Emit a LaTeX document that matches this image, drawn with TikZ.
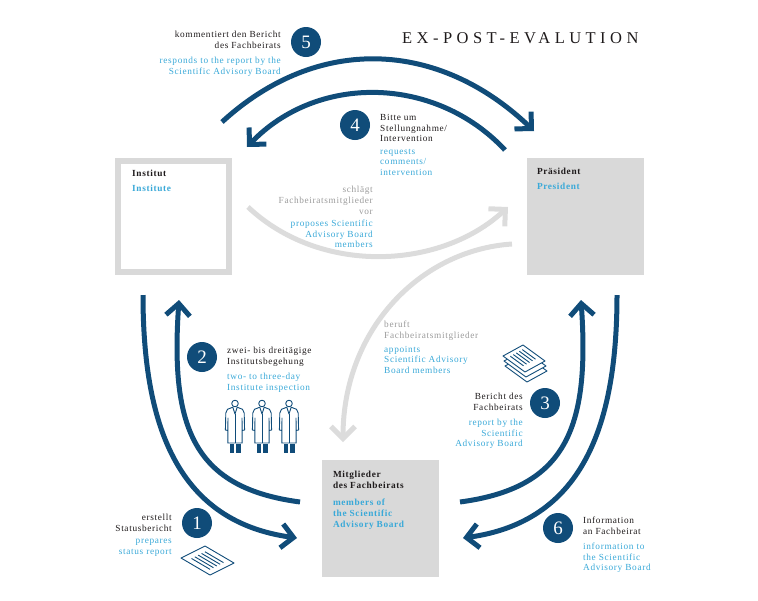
\documentclass[tikz,border=0pt]{standalone}
\usepackage{fontspec}
\setmainfont{Liberation Serif}[LetterSpace=7]
\newfontfamily\titlefont{Liberation Serif}[LetterSpace=27]
\newfontfamily\numfont{Liberation Serif}
\usepackage{tikz}
\usetikzlibrary{arrows.meta,calc,positioning}
\definecolor{navy}{RGB}{16,76,121}
\definecolor{skyblue}{RGB}{58,169,216}
\definecolor{textdark}{RGB}{30,26,27}
\definecolor{textgray}{RGB}{155,155,155}
\definecolor{boxgray}{RGB}{217,217,217}
\definecolor{arrowgray}{RGB}{220,220,220}
\tikzstyle{numdot}=[circle,fill=navy,text=white,inner sep=0pt,
                    minimum size=30pt,font=\numfont\fontsize{19}{19}\selectfont]
\tikzstyle{delabel}=[inner sep=0pt,text=textdark,
                     font=\fontsize{9.3}{10.7}\selectfont]
\tikzstyle{enlabel}=[delabel,text=skyblue,font=\fontsize{9.3}{10.5}\selectfont]
\tikzstyle{graylabel}=[delabel,text=textgray]
\tikzstyle{boxlabel}=[delabel,font=\fontsize{9.3}{11}\selectfont\bfseries]
\tikzstyle{graybox}=[fill=boxgray,inner sep=0pt,minimum size=117pt]
\tikzstyle{framebox}=[draw=boxgray,fill=white,line width=6pt,
                      inner sep=0pt,minimum size=111pt]
\tikzstyle{bluearrow}=[draw=navy,line width=5pt,
                       -{Straight Barb[length=12pt,width=24pt]}]
\tikzstyle{grayarrow}=[draw=arrowgray,line width=5pt,
                       -{Straight Barb[length=12pt,width=24pt]}]
\tikzstyle{icon}=[draw=navy,line width=0.9pt,line join=round]

\begin{document}
\begin{tikzpicture}[x=1pt,y=-1pt]
    \useasboundingbox (0,0) rectangle (758,600);
    % boxes
    \node (inst)  at (173,  216.5) [framebox]{};
    \node (pres)  at (585.5,216.5) [graybox]{};
    \node (mitgl) at (380.5,518.5) [graybox]{};
    \node (instde) at ([xshift=17.5pt,yshift=-12pt]inst.north west)
          [boxlabel,anchor=north west]{Institut};
    \node (insten) at ([xshift=17.5pt,yshift=-27pt]inst.north west)
          [boxlabel,text=skyblue,anchor=north west]{Institute};
    \node (presde) at ([xshift=10pt,yshift=-10pt]pres.north west)
          [boxlabel,anchor=north west]{Präsident};
    \node (presen) at ([xshift=10pt,yshift=-25.5pt]pres.north west)
          [boxlabel,text=skyblue,anchor=north west]{President};
    \node (mitglde) at ([xshift=11pt,yshift=-11pt]mitgl.north west)
          [boxlabel,anchor=north west,align=left]{Mitglieder\\des Fachbeirats};
    \node (mitglen) at ([xshift=11pt,yshift=-38.5pt]mitgl.north west)
          [boxlabel,text=skyblue,anchor=north west,align=left]
          {members of\\the Scientific\\Advisory Board};
    % title
    \node (title) at (402,43) [inner sep=0pt,anchor=base west,text=textdark,
          font=\titlefont\fontsize{16.5}{16.5}\selectfont]{EX-POST-EVALUTION};
    % numbers
    \node (n5) at (306,42)  [numdot]{5};
    \node (n4) at (355,125) [numdot]{4};
    \node (n2) at (202,357) [numdot]{2};
    \node (n3) at (545,403) [numdot]{3};
    \node (n1) at (197,523) [numdot]{1};
    \node (n6) at (558,528) [numdot]{6};
    % step texts
    \node (t5de) at (281,31) [delabel,anchor=north east,align=right]
          {kommentiert den Bericht\\des Fachbeirats};
    \node (t5en) at (281,57) [enlabel,anchor=north east,align=right]
          {responds to the report by the\\Scientific Advisory Board};
    \node (t4de) at (380,114) [delabel,anchor=north west,align=left]
          {Bitte um\\Stellungnahme/\\Intervention};
    \node (t4en) at (380,149) [enlabel,anchor=north west,align=left]
          {requests\\comments/\\intervention};
    \node (gvde) at (373,186) [graylabel,anchor=north east,align=right]
          {schlägt\\Fachbeiratsmitglieder\\vor};
    \node (gven) at (373,220) [enlabel,anchor=north east,align=right]
          {proposes Scientific\\Advisory Board\\members};
    \node (gbde) at (384,321) [graylabel,anchor=north west,align=left]
          {beruft\\Fachbeiratsmitglieder};
    \node (gben) at (384,346) [enlabel,anchor=north west,align=left]
          {appoints\\Scientific Advisory\\Board members};
    \node (t2de) at (227,347) [delabel,anchor=north west,align=left]
          {zwei- bis dreitägige\\Institutsbegehung};
    \node (t2en) at (227,373) [enlabel,anchor=north west,align=left]
          {two- to three-day\\Institute inspection};
    \node (t3de) at (523,393) [delabel,anchor=north east,align=right]
          {Bericht des\\Fachbeirats};
    \node (t3en) at (523,419) [enlabel,anchor=north east,align=right]
          {report by the\\Scientific\\Advisory Board};
    \node (t1de) at (172,514) [delabel,anchor=north east,align=right]
          {erstellt\\Statusbericht};
    \node (t1en) at (172,539) [enlabel,anchor=north east,align=right]
          {prepares\\status report};
    \node (t6de) at (583,517) [delabel,anchor=north west,align=left]
          {Information\\an Fachbeirat};
    \node (t6en) at (583,543) [enlabel,anchor=north west,align=left]
          {information to\\the Scientific\\Advisory Board};
    % arrow ends
    \coordinate (a5s) at (222,122);  \coordinate (a5e) at (534,131);
    \coordinate (a4s) at (505,150);  \coordinate (a4e) at (247,147);
    \coordinate (a1s) at (143,295);  \coordinate (a1e) at (297,538);
    \coordinate (a2s) at (300,502);  \coordinate (a2e) at (179,300);
    \coordinate (a3s) at (460,502);  \coordinate (a3e) at (581,300);
    \coordinate (a6s) at (617,295);  \coordinate (a6e) at (463,538);
    \coordinate (g1s) at (248,207);  \coordinate (g1e) at (508,207);
    \coordinate (g2s) at (512,244);  \coordinate (g2e) at (343,442);
    \draw[grayarrow] (g1s) .. controls (320,275) and (440,270) .. (g1e);
    \draw[grayarrow] (g2s) .. controls (420,250) and (343,330) .. (g2e);
    \draw[bluearrow] (a5s) .. controls (318,34)  and (439,40)  .. (a5e);
    \draw[bluearrow] (a4s) .. controls (436,76)  and (318,73)  .. (a4e);
    \draw[bluearrow] (a1s) .. controls (143,430) and (180,522) .. (a1e);
    \draw[bluearrow] (a2s) .. controls (195,488) and (170,430) .. (a2e);
    \draw[bluearrow] (a3s) .. controls (565,488) and (590,430) .. (a3e);
    \draw[bluearrow] (a6s) .. controls (617,430) and (580,522) .. (a6e);
    % inspectors
    \foreach \cx in {235,262,289}{
      \begin{scope}[shift={(\cx,399)}]
        \draw[icon,fill=white] (0,4.5) circle (3.3);
        \draw[icon] (-2.2,8.2) -- (-7.5,10.3) -- (-9.2,14) -- (-9.6,31)
              -- (-7.2,31.5) -- (-7,19) -- (-7.2,44) -- (7.2,44) -- (7,19)
              -- (7.2,31.5) -- (9.6,31) -- (9.2,14) -- (7.5,10.3) -- (2.2,8.2);
        \draw[icon] (-2.2,8.2) -- (0,15) -- (2.2,8.2);
        \draw[icon] (0,15) -- (0,44);
        \fill[navy] (-5.5,45) rectangle (-1,54);
        \fill[navy] (1,45) rectangle (5.5,54);
      \end{scope}
    }
    % status report
    \draw[icon,fill=white] (181,558) -- (205,546) -- (234,563) -- (210,575) -- cycle;
    \foreach \f in {0.22,0.36,0.5,0.64,0.78}
      \draw[icon] ($(181,558)+\f*(24,-12)+(5.2,3.1)$) -- ++(18.6,10.9);
    % report stack
    \foreach \k in {2,1,0}
      \draw[icon,fill=white] ($(503,356)+\k*(1,5)$) -- ++(20,-11) -- ++(22,16)
            -- ++(-20,11) -- cycle;
    \foreach \f in {0.2,0.35,0.5,0.65,0.8}
      \draw[icon] ($(503,356)+\f*(20,-11)+(3.3,2.4)$) -- ++(13.2,9.6);
\end{tikzpicture}
\end{document}
